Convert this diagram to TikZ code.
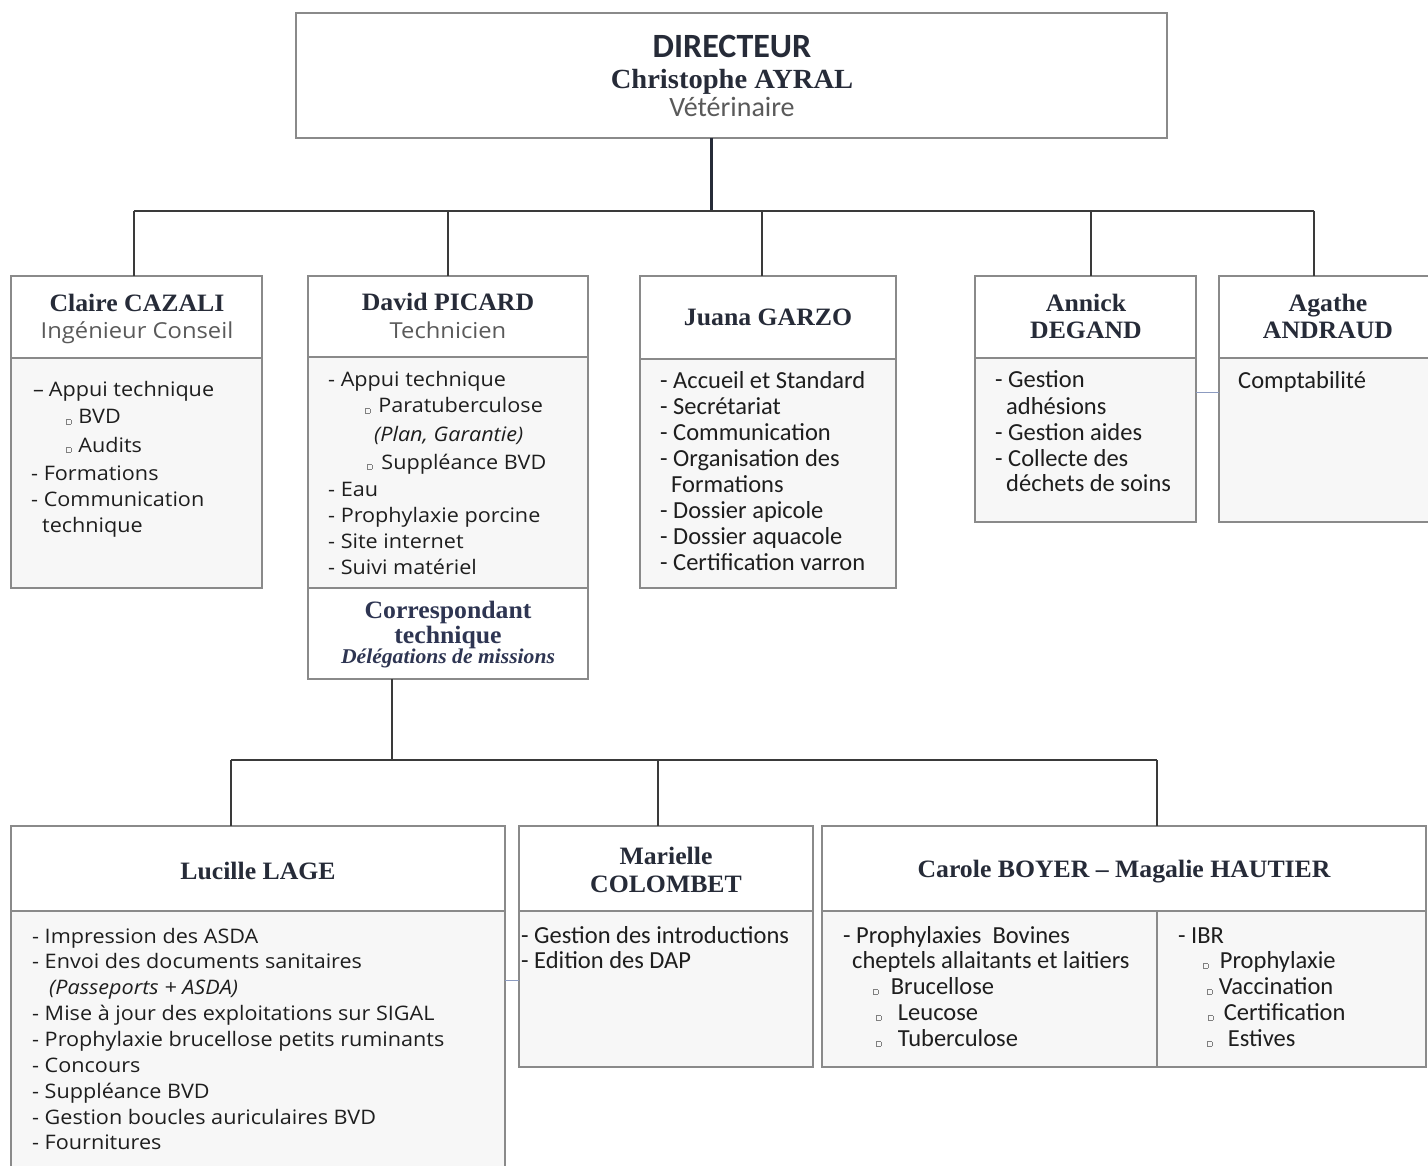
\documentclass[tikz,border=0pt]{standalone}
\usepackage{fontspec}
\setmainfont[FakeStretch=1.08]{Open Sans}
\newfontfamily\calib{Carlito}
\newfontfamily\camb[FakeStretch=1.03]{Liberation Serif}
\usetikzlibrary{calc}
\definecolor{boxc}{HTML}{8A8A8A}
\definecolor{bodyc}{HTML}{F7F7F7}
\definecolor{namec}{HTML}{262B38}
\definecolor{subc}{HTML}{5A5A5A}
\definecolor{textc}{HTML}{1E1E1E}
\definecolor{linec}{HTML}{3A3A3A}
\definecolor{linkc}{HTML}{8C9BC0}
\definecolor{corrc}{HTML}{2E3552}
\newcommand\sqb{{\color{gray}\setlength\fboxsep{0pt}\setlength\fboxrule{0.6pt}\fbox{\rule{0pt}{4pt}\rule{4pt}{0pt}}}}
\newcommand\panel[6]{\node[#6, minimum width={(#4)-(#2)}, minimum height={(#5)-(#3)}] (#1) at (#2,#3) {};}
\newcommand\tx[5][os]{\node[#1] (#2) at (#3,#4) {#5};}
\tikzset{
  panel/.style={rectangle, draw=boxc, line width=2pt, inner sep=0pt, outer sep=0pt, anchor=north west},
  hd/.style={panel, fill=white},
  bd/.style={panel, fill=bodyc},
  nm/.style={font=\camb\bfseries\fontsize{25}{25}\selectfont, text=namec, anchor=base, inner sep=0pt},
  sub/.style={font=\fontsize{22}{22}\selectfont, text=subc, anchor=base, inner sep=0pt},
  os/.style={font=\fontsize{20}{20}\selectfont, text=textc, anchor=base west, inner sep=0pt},
  cb/.style={font=\calib\fontsize{24.5}{24.5}\selectfont, text=textc, anchor=base west, inner sep=0pt},
  conn/.style={draw=linec, line width=1.4pt},
  trunk/.style={draw=namec, line width=3pt},
  link/.style={draw=linkc, line width=1pt},
}
\begin{document}
\begin{tikzpicture}[x=1pt,y=-1pt]
\useasboundingbox (0,0) rectangle (1428,1166);
% ---------- boxes
\panel{dir}{296}{13}{1167}{138}{hd}
\panel{claireH}{11}{276}{262}{358}{hd}
\panel{claireB}{11}{358}{262}{588}{bd}
\panel{davidH}{308}{276}{588}{357}{hd}
\panel{davidB}{308}{357}{588}{588}{bd}
\panel{davidC}{308}{588}{588}{679}{hd}
\panel{juanaH}{640}{276}{896}{359}{hd}
\panel{juanaB}{640}{359}{896}{588}{bd}
\panel{annickH}{975}{276}{1196}{358}{hd}
\panel{annickB}{975}{358}{1196}{522}{bd}
\panel{agatheH}{1219}{276}{1440}{358}{hd}
\panel{agatheB}{1219}{358}{1440}{522}{bd}
\panel{lucH}{11}{826}{505}{911}{hd}
\panel{lucB}{11}{911}{505}{1180}{bd}
\panel{marH}{519}{826}{813}{911}{hd}
\panel{marB}{519}{911}{813}{1067}{bd}
\panel{carH}{822}{826}{1426}{911}{hd}
\panel{carL}{822}{911}{1157}{1067}{bd}
\panel{carR}{1157}{911}{1426}{1067}{bd}
% ---------- connectors
\coordinate (busA) at (711,211);
\coordinate (tA1) at (134,211);
\coordinate (tA2) at (448,211);
\coordinate (tA3) at (762,211);
\coordinate (tA4) at (1091,211);
\coordinate (tA5) at (1314,211);
\draw[trunk] (dir.south -| busA) -- (busA);
\draw[conn] (tA1) -- (tA5);
\draw[conn] (tA1) -- (tA1 |- claireH.north);
\draw[conn] (tA2) -- (tA2 |- davidH.north);
\draw[conn] (tA3) -- (tA3 |- juanaH.north);
\draw[conn] (tA4) -- (tA4 |- annickH.north);
\draw[conn] (tA5) -- (tA5 |- agatheH.north);
\coordinate (busB) at (392,760);
\coordinate (tB1) at (231,760);
\coordinate (tB2) at (658,760);
\coordinate (tB3) at (1157,760);
\draw[conn] (davidC.south -| busB) -- (busB);
\draw[conn] (tB1) -- (tB3);
\draw[conn] (tB1) -- (tB1 |- lucH.north);
\draw[conn] (tB2) -- (tB2 |- marH.north);
\draw[conn] (tB3) -- (tB3 |- carH.north);
\draw[link] ($(annickB.north east)+(0,35)$) -- ($(agatheB.north west)+(0,35)$);
\draw[link] ($(lucB.north east)+(0,69)$) -- ($(marB.north west)+(0,69)$);
% ---------- director
\tx[font=\calib\bfseries\fontsize{34}{34}\selectfont, text=namec, anchor=base, inner sep=0pt]{d1}{732}{58}{DIRECTEUR}
\tx[nm, font=\camb\bfseries\fontsize{27.7}{27.7}\selectfont]{d2}{732}{89}{Christophe AYRAL}
\tx[font=\calib\fontsize{28}{28}\selectfont, text=subc, anchor=base, inner sep=0pt]{d3}{732}{117}{Vétérinaire}
% ---------- Claire
\tx[nm]{c0}{137}{312}{Claire CAZALI}
\tx[sub]{c00}{137}{339}{Ingénieur Conseil}
\tx{c1}{33}{396}{–\hspace{5pt}Appui technique}
\tx{c2}{66}{424}{\sqb\hspace{7pt}BVD}
\tx{c3}{66}{452}{\sqb\hspace{7pt}Audits}
\tx{c4}{31}{480}{- Formations}
\tx{c5}{31}{506}{- Communication}
\tx{c6}{42}{532}{technique}
% ---------- David
\tx[nm]{p0}{448}{311}{David PICARD}
\tx[sub]{p00}{448}{339}{Technicien}
\tx{p1}{328}{387}{- Appui technique}
\tx{p2}{365}{413}{\sqb\hspace{8pt}Paratuberculose}
\tx{p3}{374}{441}{\itshape (Plan, Garantie)}
\tx{p4}{367}{469}{\sqb\hspace{9pt}Suppléance BVD}
\tx{p5}{328}{496}{- Eau}
\tx{p6}{328}{522}{- Prophylaxie porcine}
\tx{p7}{328}{548}{- Site internet}
\tx{p8}{328}{574}{- Suivi matériel}
\tx[nm, text=corrc]{k1}{448}{618}{Correspondant}
\tx[nm, text=corrc]{k2}{448}{643}{technique}
\tx[nm, text=corrc, font=\camb\bfseries\itshape\fontsize{21}{21}\selectfont]{k3}{448}{663}{Délégations de missions}
% ---------- Juana
\tx[nm]{j0}{768}{326}{Juana GARZO}
\tx[cb]{j1}{660}{389}{- Accueil et Standard}
\tx[cb]{j2}{660}{415}{- Secrétariat}
\tx[cb]{j3}{660}{440}{- Communication}
\tx[cb]{j4}{660}{466}{- Organisation des}
\tx[cb]{j5}{671}{492}{Formations}
\tx[cb]{j6}{660}{518}{- Dossier apicole}
\tx[cb]{j7}{660}{544}{- Dossier aquacole}
\tx[cb]{j8}{660}{570}{- Certification varron}
% ---------- Annick
\tx[nm]{a0}{1086}{312}{Annick}
\tx[nm]{a00}{1086}{339}{DEGAND}
\tx[cb]{a1}{995}{388}{- Gestion}
\tx[cb]{a2}{1006}{414}{adhésions}
\tx[cb]{a3}{995}{440}{- Gestion aides}
\tx[cb]{a4}{995}{466}{- Collecte des}
\tx[cb]{a5}{1006}{491}{déchets de soins}
% ---------- Agathe
\tx[nm]{g0}{1328}{312}{Agathe}
\tx[nm]{g00}{1328}{339}{ANDRAUD}
\tx[cb]{g1}{1238}{389}{Comptabilité}
% ---------- Lucille
\tx[nm]{l0}{258}{879}{Lucille LAGE}
\tx{l1}{32}{943}{- Impression des ASDA}
\tx{l2}{32}{968}{- Envoi des documents sanitaires}
\tx{l3}{49}{994}{\itshape (Passeports + ASDA)}
\tx{l4}{32}{1020}{- Mise à jour des exploitations sur SIGAL}
\tx{l5}{32}{1046}{- Prophylaxie brucellose petits ruminants}
\tx{l6}{32}{1072}{- Concours}
\tx{l7}{32}{1098}{- Suppléance BVD}
\tx{l8}{32}{1124}{- Gestion boucles auriculaires BVD}
\tx{l9}{32}{1149}{- Fournitures}
% ---------- Marielle
\tx[nm]{m0}{666}{864}{Marielle}
\tx[nm]{m00}{666}{892}{COLOMBET}
\tx[cb]{m1}{521}{943}{- Gestion des introductions}
\tx[cb]{m2}{521}{968}{- Edition des DAP}
% ---------- Carole / Magalie
\tx[nm]{b0}{1124}{877}{Carole BOYER – Magalie HAUTIER}
\tx[cb]{b1}{843}{943}{- Prophylaxies\ \ Bovines}
\tx[cb]{b2}{852}{968}{cheptels allaitants et laitiers}
\tx[cb]{b3}{873}{994}{\sqb\hspace{12.5pt}Brucellose}
\tx[cb]{b4}{876}{1020}{\sqb\hspace{16.5pt}Leucose}
\tx[cb]{b5}{876}{1046}{\sqb\hspace{16.5pt}Tuberculose}
\tx[cb]{r1}{1178}{943}{- IBR}
\tx[cb]{r2}{1203}{968}{\sqb\hspace{11.5pt}Prophylaxie}
\tx[cb]{r3}{1207}{994}{\sqb\hspace{6.5pt}Vaccination}
\tx[cb]{r4}{1208}{1020}{\sqb\hspace{10.5pt}Certification}
\tx[cb]{r5}{1207}{1046}{\sqb\hspace{15.5pt}Estives}
\end{tikzpicture}
\end{document}
